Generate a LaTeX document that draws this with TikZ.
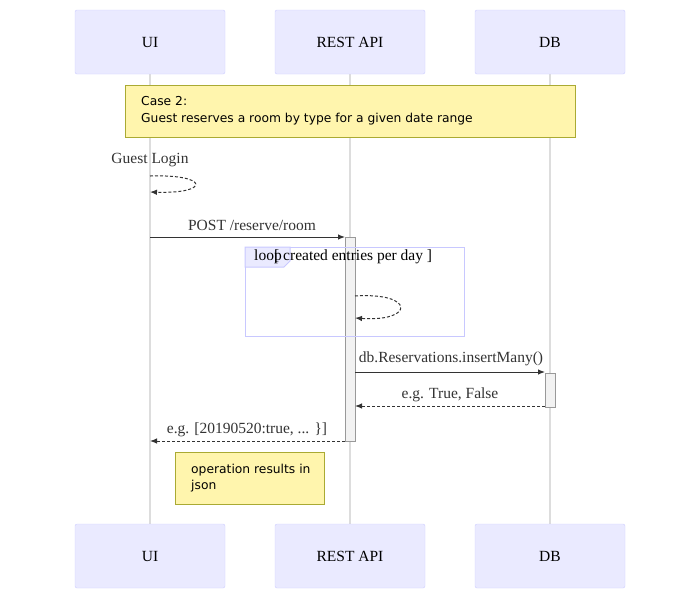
\documentclass[tikz,border=0pt]{standalone}
\usepackage{fontspec}
\setmainfont{Liberation Serif}
\newfontfamily\notefont{DejaVu Sans}
\usetikzlibrary{arrows.meta}
\definecolor{actfill}{HTML}{EAEAFF}
\definecolor{actdraw}{HTML}{CCCCFF}
\definecolor{notefill}{HTML}{FFF5AD}
\definecolor{notedraw}{HTML}{AAAA33}
\definecolor{lifeln}{HTML}{DDDDDD}
\definecolor{msg}{HTML}{333333}
\definecolor{loopdraw}{HTML}{C8C8FF}
\tikzset{
  actor/.style={draw=actdraw, fill=actfill, rounded corners=2pt, minimum width=150pt, minimum height=64pt, font=\fontsize{15.5}{18}\selectfont, inner sep=0pt},
  lifeline/.style={draw=lifeln, line width=1.2pt},
  activ/.style={draw=black!40, fill=black!5, line width=1pt},
  note/.style={draw=notedraw, fill=notefill, line width=0.8pt},
  notetxt/.style={font=\notefont\fontsize{12.3}{16.5}\selectfont, align=left, anchor=north west, inner sep=0pt, text=black},
  msgline/.style={draw=msg, line width=1pt, -{Latex[length=7pt,width=5.5pt]}},
  retline/.style={msgline, dash pattern=on 3pt off 2pt},
  msglabel/.style={font=\fontsize{15.5}{18}\selectfont, text=msg, inner sep=0pt}
}
\begin{document}
\begin{tikzpicture}[x=1pt,y=-1pt]
\useasboundingbox (0,0) rectangle (675,590);
% lifelines
\coordinate (uiT) at (150,74); \coordinate (uiB) at (150,524);
\coordinate (apiT) at (350,74); \coordinate (apiB) at (350,524);
\coordinate (dbT) at (550,74); \coordinate (dbB) at (550,524);
\draw[lifeline] (uiT) -- (uiB);
\draw[lifeline] (apiT) -- (apiB);
\draw[lifeline] (dbT) -- (dbB);
% actors
\node[actor] (ui) at (150,42) {UI};
\node[actor] (api) at (350,42) {REST API};
\node[actor] (db) at (550,42) {DB};
\node[actor] (ui2) at (150,556) {UI};
\node[actor] (api2) at (350,556) {REST API};
\node[actor] (db2) at (550,556) {DB};
% note case 2
\draw[note] (125,85) rectangle (575,137);
\node[notetxt] (case) at (141,96.5) {Case 2:\\Guest reserves a room by type for a given date range};
% guest login self
\node[msglabel] (gl) at (150,160) {Guest Login};
\coordinate (gl1) at (150,176);
\coordinate (gl2) at (150,192);
\draw[retline] (gl1) .. controls (210,174) and (210,194) .. (gl2);
% activation api
\draw[activ] (345,237) rectangle (355,441);
\coordinate (apiActL) at (345,237);
% POST
\coordinate (postS) at (150,237);
\draw[msgline] (postS) -- (apiActL);
\node[msglabel] (post) at (252,225) {POST /reserve/room};
% loop
\draw[draw=loopdraw, line width=1pt] (245,247) rectangle (464,336);
\draw[draw=loopdraw, fill=actfill, line width=1pt] (245,247) -- (290,247) -- (290,261) -- (284,267) -- (245,267) -- cycle;
\node[msglabel, text=black] (loopl) at (268,257) {loop};
\node[msglabel, text=black, anchor=west] (loopc) at (274,257) {[ created entries per day ]};
\coordinate (ls1) at (355,296);
\coordinate (ls2) at (355,318);
\draw[retline] (ls1) .. controls (415,292) and (415,322) .. (ls2);
% db activation
\draw[activ] (545,373) rectangle (555,407);
\coordinate (ins1) at (355,372);
\coordinate (ins2) at (545,372);
\draw[msgline] (ins1) -- (ins2);
\node[msglabel] (insl) at (451,359) {db.Reservations.insertMany()};
\coordinate (ret1) at (545,406);
\coordinate (ret2) at (355,406);
\draw[retline] (ret1) -- (ret2);
\node[msglabel] (retl) at (450,395) {e.g. True, False};
\coordinate (fin1) at (345,441);
\coordinate (fin2) at (150,441);
\draw[retline] (fin1) -- (fin2);
\node[msglabel] (finl) at (247,430) {e.g. [20190520:true, ... \}]};
% note json
\draw[note] (175,452) rectangle (324,504);
\node[notetxt] (json) at (191,463.5) {operation results in\\json};
\end{tikzpicture}
\end{document}
